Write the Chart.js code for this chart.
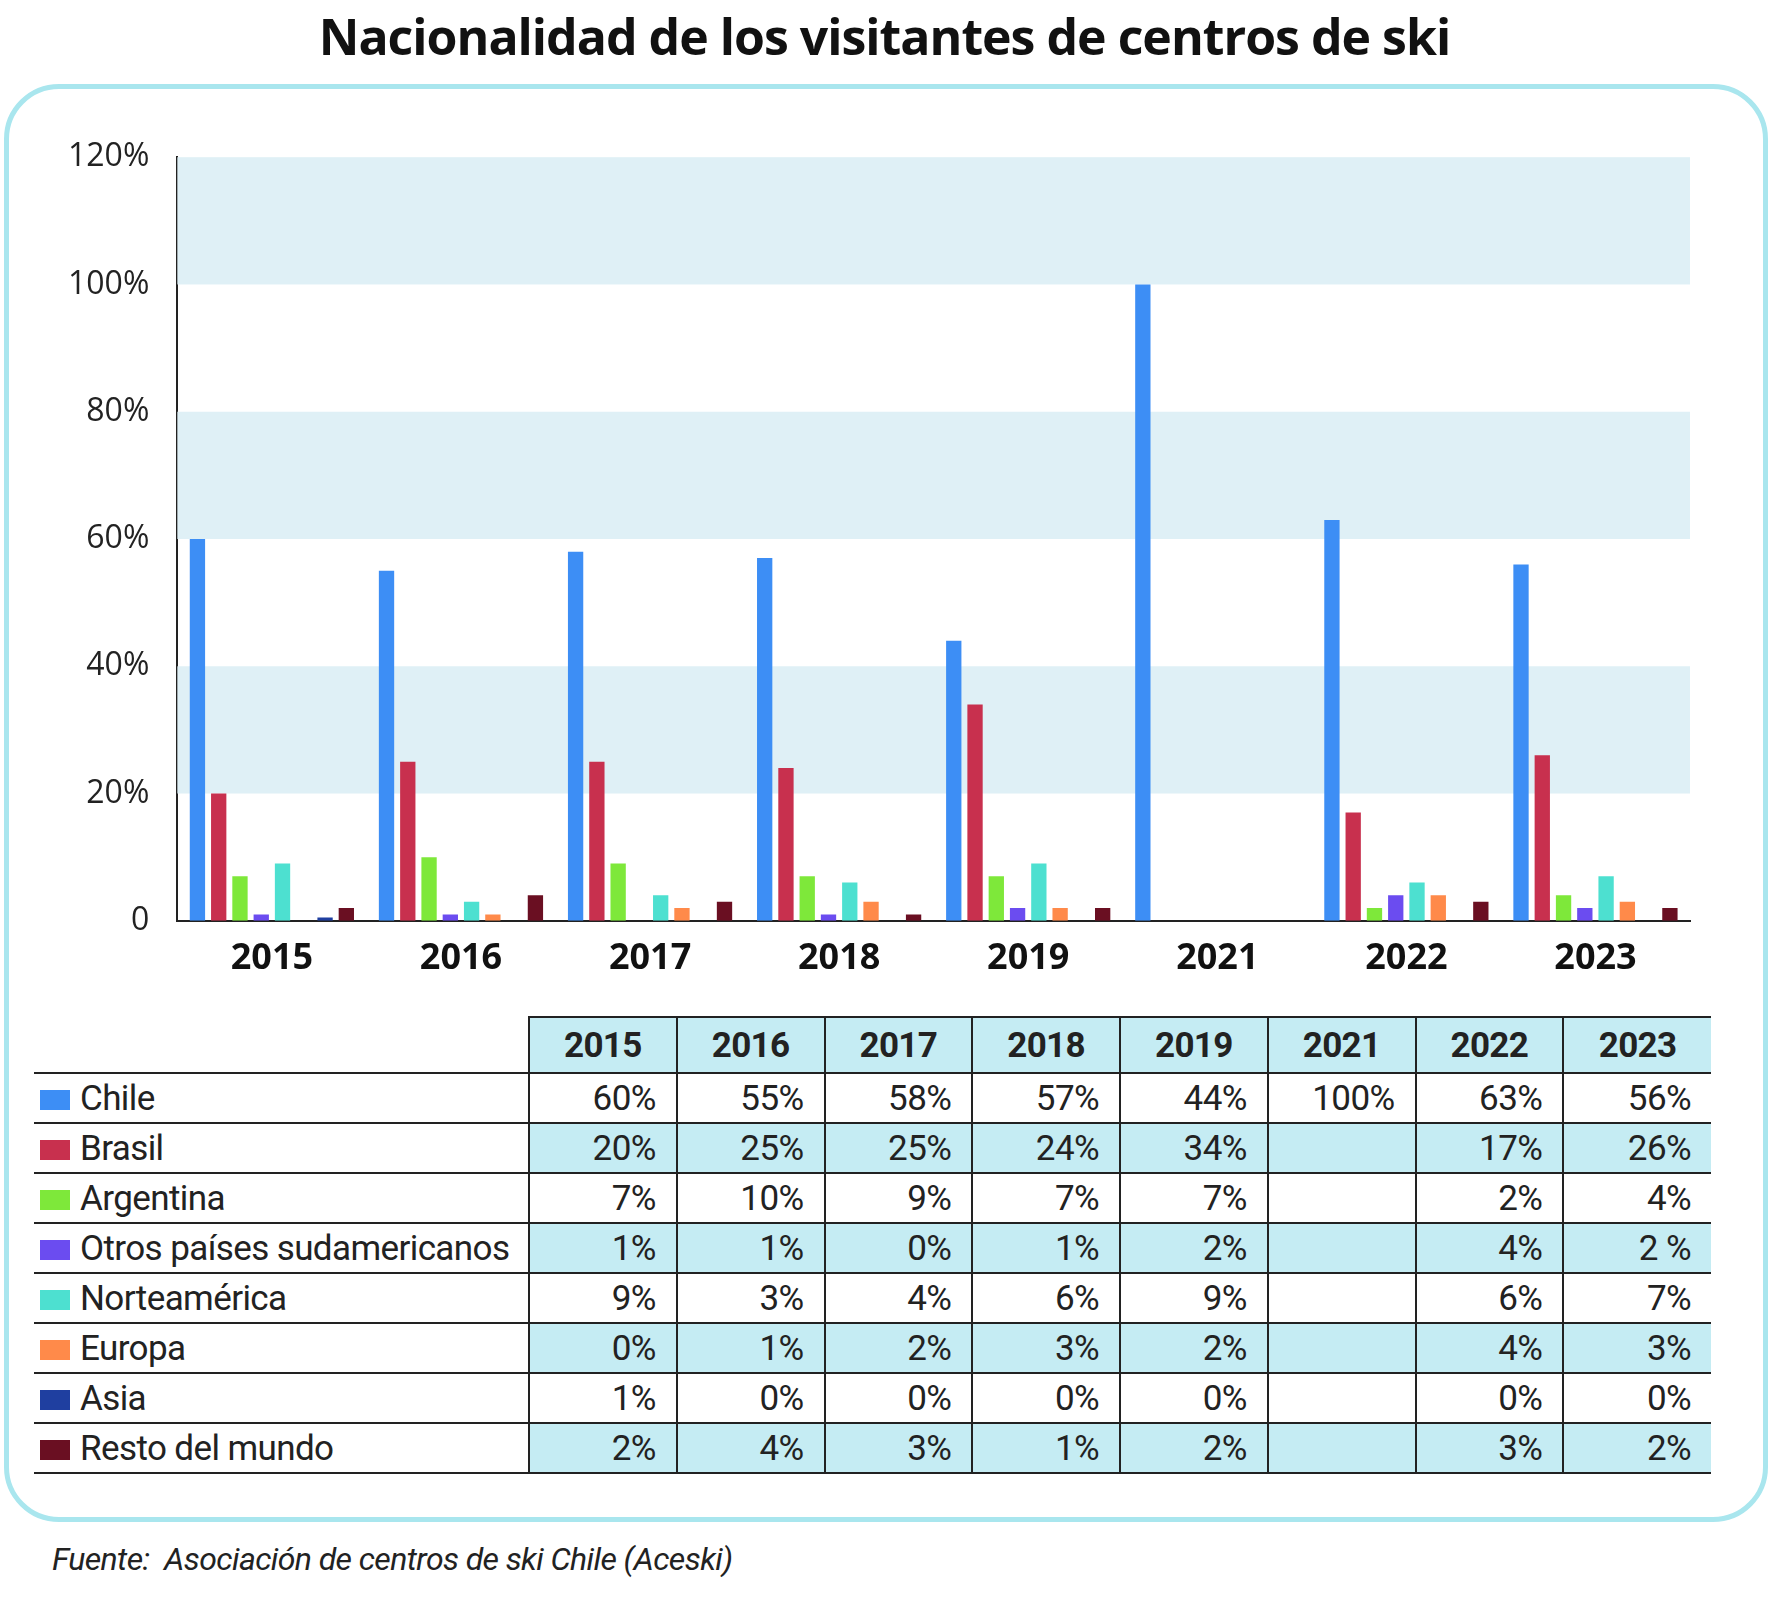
<!DOCTYPE html>
<html><head><meta charset="utf-8">
<script src="https://cdn.jsdelivr.net/npm/chart.js@4/dist/chart.umd.min.js"></script>
<style>
body{margin:0;background:#fff;font-family:"Liberation Sans Narrow","Roboto",sans-serif;}
#page{position:relative;width:1769px;height:1623px;}
h1{position:absolute;top:2px;left:0;width:1769px;text-align:center;margin:0;font-family:"Open Sans",sans-serif;font-weight:700;font-size:50px;letter-spacing:-1px;color:#111;}
#box{position:absolute;left:4px;top:84px;width:1754px;height:1428px;border:5px solid #a9e6ee;border-radius:55px;}
#cw{position:absolute;left:48px;top:118px;width:1652px;height:870px;}
table{position:absolute;left:34px;top:1016px;border-collapse:collapse;table-layout:fixed;width:1677px;font-size:35px;letter-spacing:-0.6px;color:#222;}
td{height:48px;padding:0 20px 0 0;text-align:right;border-bottom:2px solid #222;border-left:2px solid #222;overflow:hidden;}
td.lab{text-align:left;border-left:none;padding:0 0 0 6px;white-space:nowrap;}
tr.h td{font-weight:bold;text-align:center;padding:0;background:#c5ecf3;border-top:2px solid #222;height:54px;}
tr.h td.lab{background:#fff;border-top:none;}
tr.alt td{background:#c5ecf3;}tr.alt td.lab{background:#fff;}
.sw{display:inline-block;width:30px;height:20px;margin-right:10px;vertical-align:middle;}
#src{position:absolute;left:52px;top:1540px;font-style:italic;font-size:32px;letter-spacing:-0.6px;color:#222;}
</style></head><body>
<div id="page">
<h1>Nacionalidad de los visitantes de centros de ski</h1>
<div id="box"></div>
<div id="cw"><canvas id="c"></canvas></div>
<table id="t"><colgroup><col style="width:495px"><col span="8" style="width:147.75px"></colgroup></table>
<div id="src">Fuente:&nbsp; Asociación de centros de ski Chile (Aceski)</div>
</div>
<script>
const years = ['2015','2016','2017','2018','2019','2021','2022','2023'];
const names = ['Chile','Brasil','Argentina','Otros países sudamericanos','Norteamérica','Europa','Asia','Resto del mundo'];
const colors = ['#3d8ef5','#c8304e','#7ee83a','#6b4cf0','#4de0d0','#ff8a4a','#1f3fa0','#6a0f22'];
const chile = [60,55,58,57,44,100,63,56];
const brasil = [20,25,25,24,34,null,17,26];
const argentina = [7,10,9,7,7,null,2,4];
const otros = [1,1,0,1,2,null,4,2];
const norte = [9,3,4,6,9,null,6,7];
const europa = [0,1,2,3,2,null,4,3];
const asia = [0.5,0,0,0,0,null,0,0];
const resto = [2,4,3,1,2,null,3,2];
const labelsTbl = [['60%','55%','58%','57%','44%','100%','63%','56%'],
['20%','25%','25%','24%','34%','','17%','26%'],['7%','10%','9%','7%','7%','','2%','4%'],
['1%','1%','0%','1%','2%','','4%','2 %'],['9%','3%','4%','6%','9%','','6%','7%'],
['0%','1%','2%','3%','2%','','4%','3%'],['1%','0%','0%','0%','0%','','0%','0%'],
['2%','4%','3%','1%','2%','','3%','2%']];
const series = [chile,brasil,argentina,otros,norte,europa,asia,resto];

const bands = {id:'bands',beforeDatasetsDraw(ch){
  const {ctx,chartArea:a,scales:{y}}=ch;ctx.save();ctx.fillStyle='#dff0f6';
  [[20,40],[60,80],[100,120]].forEach(([lo,hi])=>{const t=y.getPixelForValue(hi),b=y.getPixelForValue(lo);ctx.fillRect(a.left,t,a.right-a.left,b-t);});
  ctx.restore();}};

new Chart(document.getElementById('c'),{type:'bar',
 data:{labels:years,datasets:series.map((d,i)=>({label:names[i],data:d,backgroundColor:colors[i]}))},
 options:{responsive:true,maintainAspectRatio:false,animation:false,
  layout:{padding:{right:10}},
  datasets:{bar:{categoryPercentage:0.9,barPercentage:0.72}},
  plugins:{legend:{display:false},tooltip:{enabled:false}},
  scales:{
   x:{grid:{display:false},border:{color:'#222',width:2},ticks:{color:'#111',font:{family:'Open Sans',size:36,weight:'bold'},padding:8}},
   y:{min:0,max:120,grid:{display:false},border:{color:'#222',width:2},
      ticks:{stepSize:20,color:'#222',font:{family:'Open Sans',size:32},padding:20,callback:v=>v===0?'0':v+'%'}}}},
 plugins:[bands]});

const t=document.getElementById('t');
let h='<tr class="h"><td class="lab"></td>'+years.map(y=>'<td>'+y+'</td>').join('')+'</tr>';
names.forEach((n,i)=>{h+='<tr'+(i%2?' class="alt"':'')+'><td class="lab"><span class="sw" style="background:'+colors[i]+'"></span>'+n+'</td>'+labelsTbl[i].map(v=>'<td>'+v+'</td>').join('')+'</tr>';});
t.insertAdjacentHTML('beforeend',h);
</script>
</body></html>
